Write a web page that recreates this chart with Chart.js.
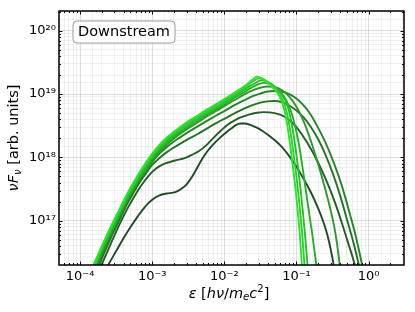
<!DOCTYPE html>
<html><head><meta charset="utf-8">
<script src="https://cdn.jsdelivr.net/npm/chart.js@4.4.1/dist/chart.umd.min.js"></script>
<style>html,body{margin:0;padding:0;background:#fff;}#wrap{width:415px;height:312px;}</style>
</head><body><div id="wrap"><canvas id="c" width="415" height="312"></canvas></div>
<script>
// ---- data ----
const eps1 = [2.19e-4, 2.45e-4, 3.16e-4, 3.98e-4, 5.01e-4, 6.31e-4, 7.94e-4, 1e-3, 1.26e-3, 1.58e-3, 2.09e-3, 2.51e-3, 3.02e-3, 3.55e-3, 4.17e-3, 4.9e-3, 5.75e-3, 6.92e-3, 8.51e-3, 0.01047, 0.01259, 0.01445, 0.0166, 0.01905, 0.02291, 0.02818, 0.03467, 0.03981, 0.05012, 0.0631, 0.0818, 0.1122, 0.1585, 0.1995, 0.2328, 0.2692, 0.302, 0.3311, 0.3548];
const flux1 = [1.58e16, 2.0e16, 3.31e16, 5.25e16, 7.94e16, 1.17e17, 1.66e17, 2.14e17, 2.51e17, 2.69e17, 2.82e17, 3.16e17, 3.8e17, 4.9e17, 6.76e17, 9.33e17, 1.23e18, 1.58e18, 2.0e18, 2.45e18, 2.88e18, 3.24e18, 3.43e18, 3.43e18, 3.27e18, 2.95e18, 2.57e18, 2.29e18, 1.86e18, 1.45e18, 1.0e18, 5.75e17, 2.82e17, 1.58e17, 1.0e17, 5.89e16, 3.31e16, 1.91e16, 1.2e16];

const eps2 = [1.66e-4, 1.91e-4, 2.24e-4, 2.82e-4, 3.55e-4, 4.47e-4, 5.62e-4, 7.08e-4, 8.91e-4, 1.12e-3, 1.41e-3, 1.78e-3, 2.24e-3, 2.82e-3, 3.55e-3, 4.47e-3, 5.62e-3, 7.08e-3, 8.91e-3, 0.01122, 0.01413, 0.01679, 0.02239, 0.02818, 0.03467, 0.05012, 0.06761, 0.1, 0.1413, 0.1995, 0.263, 0.3388, 0.4169, 0.5012, 0.6026, 0.6918, 0.7586];
const flux2 = [1.26e16, 1.82e16, 2.75e16, 5.01e16, 8.91e16, 1.51e17, 2.4e17, 3.63e17, 5.13e17, 6.61e17, 7.76e17, 8.51e17, 9.12e17, 9.77e17, 1.1e18, 1.26e18, 1.55e18, 2.04e18, 2.63e18, 3.31e18, 3.89e18, 4.27e18, 4.79e18, 5.07e18, 5.19e18, 5.01e18, 4.42e18, 3.02e18, 1.7e18, 8.32e17, 4.17e17, 2.0e17, 1.0e17, 5.13e16, 2.63e16, 1.51e16, 1.0e16];

const eps3 = [1.66e-4, 2.0e-4, 2.6e-4, 3.55e-4, 4.47e-4, 5.62e-4, 6.82e-4, 8.32e-4, 1e-3, 1.26e-3, 1.58e-3, 2.24e-3, 3.05e-3, 4.27e-3, 5.79e-3, 7.94e-3, 0.01, 0.0141, 0.0187, 0.0251, 0.0316, 0.0398, 0.0501, 0.0631, 0.0794, 0.1, 0.1259, 0.1585, 0.1995, 0.2512, 0.3162, 0.3981, 0.5012, 0.6026, 0.7079, 0.7943];
const flux3 = [1.45e16, 2.51e16, 5.01e16, 1.05e17, 1.82e17, 2.88e17, 4.17e17, 5.75e17, 7.59e17, 9.77e17, 1.2e18, 1.55e18, 1.91e18, 2.34e18, 2.88e18, 3.55e18, 4.07e18, 5.01e18, 5.89e18, 6.76e18, 7.33e18, 7.67e18, 7.76e18, 7.41e18, 6.61e18, 5.5e18, 4.27e18, 3.02e18, 1.95e18, 1.12e18, 5.75e17, 2.63e17, 1.05e17, 5.01e16, 2.4e16, 1.32e16];

const eps4 = [1.58e-4, 2.0e-4, 2.6e-4, 3.55e-4, 4.47e-4, 5.62e-4, 6.82e-4, 8.32e-4, 1e-3, 1.26e-3, 1.58e-3, 2.24e-3, 3.05e-3, 4.27e-3, 5.79e-3, 7.94e-3, 0.01, 0.0141, 0.0187, 0.0251, 0.0316, 0.0398, 0.0501, 0.0631, 0.0794, 0.1, 0.1259, 0.1585, 0.195, 0.2512, 0.3311, 0.4266, 0.5623, 0.6761, 0.8128, 0.8913];
const flux4 = [1.45e16, 2.75e16, 5.5e16, 1.15e17, 2.0e17, 3.16e17, 4.57e17, 6.46e17, 8.51e17, 1.15e18, 1.45e18, 1.95e18, 2.45e18, 3.09e18, 3.8e18, 4.68e18, 5.37e18, 6.76e18, 7.94e18, 9.33e18, 1.02e19, 1.1e19, 1.12e19, 1.1e19, 1.0e19, 8.51e18, 6.61e18, 4.68e18, 3.09e18, 1.74e18, 8.13e17, 3.55e17, 1.17e17, 5.25e16, 2.0e16, 1.12e16];

const eps5 = [1.26e-4, 1.53e-4, 2.0e-4, 2.6e-4, 3.55e-4, 4.47e-4, 5.62e-4, 6.82e-4, 8.32e-4, 1e-3, 1.26e-3, 1.58e-3, 2.24e-3, 3.05e-3, 4.27e-3, 5.79e-3, 7.94e-3, 0.01, 0.0141, 0.0187, 0.0251, 0.0316, 0.0398, 0.0501, 0.0631, 0.0794, 0.1, 0.1259, 0.1585, 0.1995, 0.2399, 0.2844, 0.3311, 0.3631, 0.3837, 0.4074, 0.4266];
const flux5 = [9.3e15, 1.55e16, 3.09e16, 5.89e16, 1.2e17, 2.04e17, 3.24e17, 4.68e17, 6.61e17, 8.91e17, 1.23e18, 1.58e18, 2.19e18, 2.82e18, 3.55e18, 4.47e18, 5.5e18, 6.46e18, 8.13e18, 9.77e18, 1.15e19, 1.26e19, 1.32e19, 1.29e19, 1.15e19, 9.12e18, 6.31e18, 3.72e18, 1.82e18, 7.94e17, 3.8e17, 1.82e17, 8.51e16, 4.57e16, 2.82e16, 1.58e16, 1e16];

const eps6 = [1.26e-4, 1.53e-4, 2.0e-4, 2.6e-4, 3.55e-4, 4.47e-4, 5.62e-4, 6.82e-4, 8.32e-4, 1e-3, 1.26e-3, 1.58e-3, 2.24e-3, 3.05e-3, 4.27e-3, 5.79e-3, 7.94e-3, 0.01, 0.0141, 0.0187, 0.0229, 0.0282, 0.035, 0.0417, 0.0501, 0.0603, 0.0708, 0.0832, 0.0955, 0.1096, 0.1259, 0.1455, 0.166, 0.184, 0.1995];
const flux6 = [1.0e16, 1.66e16, 3.31e16, 6.31e16, 1.29e17, 2.19e17, 3.47e17, 5.01e17, 7.08e17, 9.55e17, 1.32e18, 1.7e18, 2.34e18, 3.02e18, 3.8e18, 4.79e18, 5.89e18, 6.92e18, 8.81e18, 1.07e19, 1.23e19, 1.4e19, 1.5e19, 1.45e19, 1.29e19, 1.07e19, 8.32e18, 5.5e18, 3.16e18, 1.48e18, 5.25e17, 1.66e17, 6.03e16, 2.51e16, 1.26e16];

const eps7 = [1.26e-4, 1.53e-4, 2.0e-4, 2.6e-4, 3.55e-4, 4.47e-4, 5.62e-4, 6.82e-4, 8.32e-4, 1e-3, 1.26e-3, 1.58e-3, 2.24e-3, 3.05e-3, 4.27e-3, 5.79e-3, 7.94e-3, 0.01, 0.0141, 0.0187, 0.0229, 0.0275, 0.0324, 0.038, 0.0447, 0.0525, 0.0617, 0.0708, 0.0776, 0.0861, 0.0944, 0.1035, 0.1135, 0.123, 0.1324, 0.1422, 0.1496];
const flux7 = [1.07e16, 1.78e16, 3.55e16, 6.76e16, 1.38e17, 2.34e17, 3.72e17, 5.37e17, 7.59e17, 1.02e18, 1.41e18, 1.82e18, 2.51e18, 3.24e18, 4.07e18, 5.13e18, 6.31e18, 7.41e18, 9.44e18, 1.16e19, 1.35e19, 1.51e19, 1.65e19, 1.6e19, 1.45e19, 1.23e19, 1.0e19, 7.76e18, 5.75e18, 3.31e18, 1.74e18, 7.94e17, 3.31e17, 1.35e17, 5.5e16, 2.02e16, 8.9e15];

const eps8 = [1.32e-4, 1.62e-4, 2.0e-4, 2.6e-4, 3.55e-4, 4.47e-4, 5.62e-4, 6.82e-4, 8.32e-4, 1e-3, 1.26e-3, 1.58e-3, 2.24e-3, 3.05e-3, 4.27e-3, 5.79e-3, 7.94e-3, 0.01, 0.0141, 0.0187, 0.0229, 0.0263, 0.0302, 0.0347, 0.0398, 0.0468, 0.055, 0.0631, 0.070, 0.0785, 0.0861, 0.0944, 0.1035, 0.1122, 0.1202, 0.1291, 0.1365];
const flux8 = [1.2e16, 2.0e16, 3.76e16, 7.16e16, 1.46e17, 2.48e17, 3.94e17, 5.69e17, 8.04e17, 1.08e18, 1.5e18, 1.93e18, 2.66e18, 3.43e18, 4.32e18, 5.43e18, 6.68e18, 7.85e18, 1.01e19, 1.24e19, 1.48e19, 1.66e19, 1.77e19, 1.72e19, 1.55e19, 1.32e19, 1.07e19, 8.51e18, 6.31e18, 3.55e18, 1.82e18, 8.32e17, 3.55e17, 1.45e17, 6.03e16, 2.02e16, 7.9e15];

const eps9 = [1.26e-4, 1.53e-4, 2.0e-4, 2.6e-4, 3.55e-4, 4.47e-4, 5.62e-4, 6.82e-4, 8.32e-4, 1e-3, 1.26e-3, 1.58e-3, 2.24e-3, 3.05e-3, 4.27e-3, 5.79e-3, 7.94e-3, 0.01, 0.0141, 0.0187, 0.0229, 0.0263, 0.028, 0.0316, 0.0363, 0.0427, 0.0501, 0.058, 0.0646, 0.0724, 0.0794, 0.0871, 0.0955, 0.1035, 0.111, 0.119, 0.126];
const flux9 = [1.2e16, 2.0e16, 3.98e16, 7.59e16, 1.55e17, 2.63e17, 4.17e17, 6.03e17, 8.51e17, 1.15e18, 1.58e18, 2.04e18, 2.82e18, 3.63e18, 4.57e18, 5.75e18, 7.08e18, 8.32e18, 1.07e19, 1.32e19, 1.58e19, 1.8e19, 1.88e19, 1.82e19, 1.66e19, 1.41e19, 1.17e19, 9.33e18, 6.92e18, 3.98e18, 2.0e18, 8.91e17, 3.8e17, 1.55e17, 6.31e16, 2.02e16, 7.9e15];

const xTickLabels = {'-4': '10⁻⁴', '-3': '10⁻³', '-2': '10⁻²', '-1': '10⁻¹', '0': '10⁰'};
const yTickLabels = {'17': '10¹⁷', '18': '10¹⁸', '19': '10¹⁹', '20': '10²⁰'};
const legendLabel = 'Downstream';

// ---- styles ----
const series = [
  [eps9, flux9, '#2ce22c'],
  [eps8, flux8, '#27d327'],
  [eps7, flux7, '#25c225'],
  [eps6, flux6, '#27ae27'],
  [eps5, flux5, '#299a29'],
  [eps4, flux4, '#248524'],
  [eps3, flux3, '#237323'],
  [eps2, flux2, '#225f24'],
  [eps1, flux1, '#1e4c22']
];
const FONT = '"DejaVu Sans", sans-serif';

const datasets = series.map(([xs, ys, col]) => ({
  data: xs.map((x, i) => ({x: x, y: ys[i]})),
  borderColor: col,
  borderWidth: 1.9,
  pointRadius: 0,
  fill: false,
  cubicInterpolationMode: 'monotone',
  clip: 0
}));

function isDecade(v) { const l = Math.log10(v); return Math.abs(l - Math.round(l)) < 1e-9; }
function isNiceTick(v) { const l = Math.log10(v); const e = Math.floor(l + 1e-12); const s = v / Math.pow(10, e); return Math.abs(s - Math.round(s)) < 1e-6; }

function drawRich(ctx, parts, size, x, y) {
  let total = 0;
  const items = parts.map(p => {
    const s = (p.sub || p.sup) ? size * 0.7 : size;
    const f = (p.i ? 'italic ' : '') + s + 'px ' + FONT;
    ctx.font = f;
    const w = ctx.measureText(p.t).width;
    total += w;
    return {t: p.t, f: f, w: w, dy: p.sub ? size * 0.2 : (p.sup ? -size * 0.4 : 0)};
  });
  let cx = x - total / 2;
  for (const it of items) { ctx.font = it.f; ctx.fillText(it.t, cx, y + it.dy); cx += it.w; }
}

const decor = {
  id: 'decor',
  afterDraw(chart) {
    const ctx = chart.ctx, a = chart.chartArea;
    const xs = chart.scales.x, ys = chart.scales.y;
    ctx.save();
    ctx.strokeStyle = '#000';
    ctx.lineWidth = 1;
    ctx.beginPath();
    xs.ticks.forEach(t => {
      if (!isNiceTick(t.value)) return;
      const p = Math.round(xs.getPixelForValue(t.value)) + 0.5;
      if (p <= a.left + 1 || p >= a.right - 1) return;
      const L = isDecade(t.value) ? 3.5 : 2;
      ctx.moveTo(p, a.bottom); ctx.lineTo(p, a.bottom - L);
      ctx.moveTo(p, a.top); ctx.lineTo(p, a.top + L);
    });
    ys.ticks.forEach(t => {
      if (!isNiceTick(t.value)) return;
      const p = Math.round(ys.getPixelForValue(t.value)) + 0.5;
      if (p <= a.top + 1 || p >= a.bottom - 1) return;
      const L = isDecade(t.value) ? 3.5 : 2;
      ctx.moveTo(a.left, p); ctx.lineTo(a.left + L, p);
      ctx.moveTo(a.right, p); ctx.lineTo(a.right - L, p);
    });
    ctx.stroke();
    ctx.lineWidth = 1.5;
    ctx.strokeRect(a.left, a.top, a.right - a.left, a.bottom - a.top);
    // legend-like label box
    const bx = 73, by = 21, bw = 102, bh = 22, r = 4;
    ctx.beginPath();
    ctx.moveTo(bx + r, by); ctx.lineTo(bx + bw - r, by); ctx.arcTo(bx + bw, by, bx + bw, by + r, r);
    ctx.lineTo(bx + bw, by + bh - r); ctx.arcTo(bx + bw, by + bh, bx + bw - r, by + bh, r);
    ctx.lineTo(bx + r, by + bh); ctx.arcTo(bx, by + bh, bx, by + bh - r, r);
    ctx.lineTo(bx, by + r); ctx.arcTo(bx, by, bx + r, by, r); ctx.closePath();
    ctx.fillStyle = 'rgba(255,255,255,0.85)';
    ctx.fill();
    ctx.strokeStyle = '#9a9a9a';
    ctx.lineWidth = 1;
    ctx.stroke();
    ctx.fillStyle = '#000';
    ctx.font = '14.5px ' + FONT;
    ctx.textAlign = 'center';
    ctx.textBaseline = 'middle';
    ctx.fillText(legendLabel, bx + bw / 2, by + bh / 2 + 0.5);
    // axis titles
    ctx.textAlign = 'left';
    ctx.textBaseline = 'alphabetic';
    drawRich(ctx, [
      {t: 'ε', i: 1}, {t: ' ['}, {t: 'hν', i: 1}, {t: '/'}, {t: 'm', i: 1}, {t: 'e', i: 1, sub: 1},
      {t: 'c', i: 1}, {t: '2', sup: 1}, {t: ']'}
    ], 14.5, 229, 297.5);
    ctx.save();
    ctx.translate(18, 138);
    ctx.rotate(-Math.PI / 2);
    drawRich(ctx, [
      {t: 'ν', i: 1}, {t: 'F', i: 1}, {t: 'ν', i: 1, sub: 1}, {t: ' [arb. units]'}
    ], 14.5, 0, 0);
    ctx.restore();
    ctx.restore();
  }
};

const gridColor = (c) => (c.tick && isDecade(c.tick.value)) ? 'rgba(0,0,0,0.13)' : 'rgba(0,0,0,0.06)';

new Chart(document.getElementById('c'), {
  type: 'line',
  data: {datasets: datasets},
  options: {
    responsive: false,
    animation: false,
    devicePixelRatio: 1,
    layout: {padding: {top: 11, right: 11, left: 0, bottom: 0}},
    plugins: {legend: {display: false}, tooltip: {enabled: false}},
    scales: {
      x: {
        type: 'logarithmic',
        position: 'bottom',
        min: 5.1e-5,
        max: 3.1,
        border: {display: false},
        grid: {drawTicks: false, lineWidth: 1, color: gridColor},
        ticks: {
          autoSkip: false, maxRotation: 0, padding: 4,
          color: '#000', font: {family: FONT, size: 13},
          callback: (v) => { const l = Math.log10(v), r = Math.round(l); return Math.abs(l - r) < 1e-9 ? (xTickLabels[String(r)] || '') : ''; }
        },
        afterFit: (s) => { s.height = 47; }
      },
      y: {
        type: 'logarithmic',
        position: 'left',
        min: 2e16,
        max: 2.05e20,
        border: {display: false},
        grid: {drawTicks: false, lineWidth: 1, color: gridColor},
        ticks: {
          autoSkip: false, padding: 3,
          color: '#000', font: {family: FONT, size: 13},
          callback: (v) => { const l = Math.log10(v), r = Math.round(l); return Math.abs(l - r) < 1e-9 ? (yTickLabels[String(r)] || '') : ''; }
        },
        afterFit: (s) => { s.width = 59; }
      }
    }
  },
  plugins: [decor]
});
</script>
</body></html>
